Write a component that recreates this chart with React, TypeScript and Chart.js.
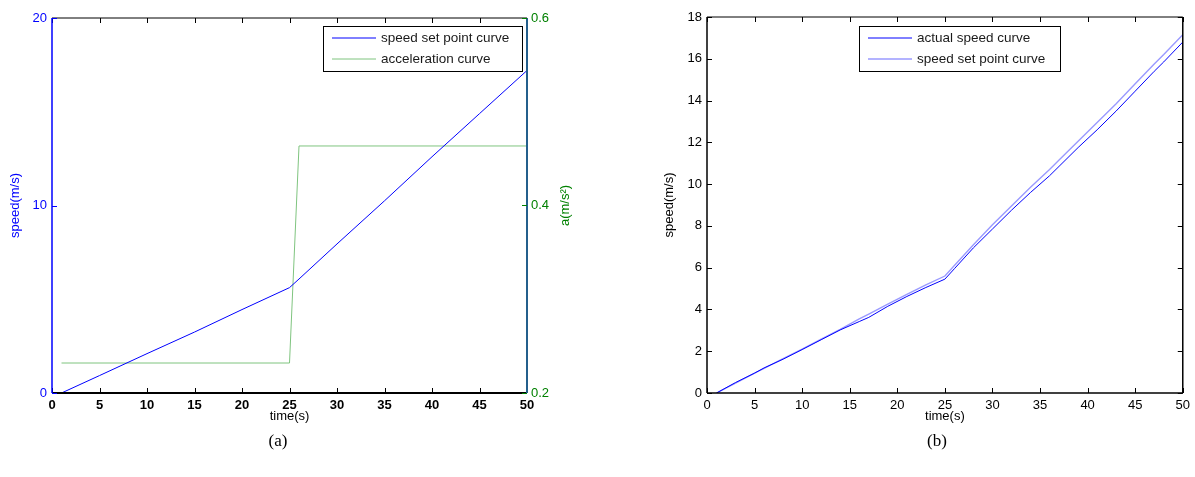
import React, { useEffect, useRef } from 'react';
import { Chart, registerables } from 'chart.js';

Chart.register(...registerables);

// ---------- data ----------
const timeTicks = [0, 5, 10, 15, 20, 25, 30, 35, 40, 45, 50];
const speedTicksA = [0, 10, 20];
const accelTicksA = [0.2, 0.4, 0.6];
const speedTicksB = [0, 2, 4, 6, 8, 10, 12, 14, 16, 18];

// (a) speed set point and acceleration
const setTimeA = [1, 5, 10, 15, 20, 25, 26, 30, 35, 40, 45, 50];
const setSpeedA = [0, 0.93, 2.1, 3.25, 4.45, 5.62, 6.08, 7.95, 10.25, 12.6, 14.9, 17.2];
const accelTimeA = [1, 25, 26, 50];
const accelA = [0.232, 0.232, 0.4635, 0.4635];

// (b) actual speed vs set point speed
const timeB = [1, 3, 5, 6, 8, 10, 12, 14, 16, 17, 19, 21, 23, 25, 26, 28, 30, 32, 34, 36, 37, 39, 41, 43, 45, 47, 48, 50];
const actualSpeedB = [0, 0.5, 0.95, 1.2, 1.62, 2.08, 2.55, 3.02, 3.42, 3.62, 4.15, 4.62, 5.05, 5.45, 5.95, 6.95, 7.85, 8.75, 9.6, 10.4, 10.85, 11.75, 12.6, 13.5, 14.45, 15.4, 15.85, 16.8];
const setSpeedB = [0, 0.47, 0.95, 1.18, 1.65, 2.1, 2.58, 3.05, 3.55, 3.78, 4.25, 4.72, 5.18, 5.6, 6.1, 7.1, 8.05, 8.95, 9.85, 10.7, 11.15, 12.05, 12.95, 13.85, 14.8, 15.75, 16.2, 17.15];

const FAMILY = '"Liberation Sans", Arial, Helvetica, sans-serif';

const pts = (xs: number[], ys: number[]) => xs.map((x, i) => ({ x, y: ys[i] }));
const fixedTicks = (vals: number[]) => (s: any) => {
  s.ticks = vals.map((v) => ({ value: v }));
};

// ---------- plugins ----------
const framePlugin = {
  id: 'frame',
  afterDraw(chart: any, _args: any, opts: any) {
    const { ctx, chartArea: a } = chart;
    for (const s of opts.sides || []) {
      const scale = chart.scales[s.scale];
      ctx.save();
      ctx.strokeStyle = s.color;
      ctx.lineWidth = s.width;
      ctx.beginPath();
      if (s.edge === 'bottom') { ctx.moveTo(a.left, a.bottom); ctx.lineTo(a.right, a.bottom); }
      if (s.edge === 'top') { ctx.moveTo(a.left, a.top); ctx.lineTo(a.right, a.top); }
      if (s.edge === 'left') { ctx.moveTo(a.left, a.top); ctx.lineTo(a.left, a.bottom); }
      if (s.edge === 'right') { ctx.moveTo(a.right, a.top); ctx.lineTo(a.right, a.bottom); }
      ctx.stroke();
      if (s.tick) {
        ctx.strokeStyle = s.tickColor || s.color;
        ctx.lineWidth = 1;
        ctx.beginPath();
        for (const t of scale.ticks) {
          const p = Math.round(scale.getPixelForValue(t.value)) + 0.5;
          if (s.edge === 'bottom') { ctx.moveTo(p, a.bottom); ctx.lineTo(p, a.bottom - s.tick); }
          if (s.edge === 'top') { ctx.moveTo(p, a.top); ctx.lineTo(p, a.top + s.tick); }
          if (s.edge === 'left') { ctx.moveTo(a.left, p); ctx.lineTo(a.left + s.tick, p); }
          if (s.edge === 'right') { ctx.moveTo(a.right, p); ctx.lineTo(a.right - s.tick, p); }
        }
        ctx.stroke();
      }
      ctx.restore();
    }
  },
};

const boxLegendPlugin = {
  id: 'boxLegend',
  afterDraw(chart: any, _args: any, opts: any) {
    if (!opts || !opts.width) return;
    const { ctx, chartArea: a } = chart;
    const x = a.left + opts.left;
    const y = a.top + opts.top;
    ctx.save();
    ctx.fillStyle = '#fff';
    ctx.fillRect(x, y, opts.width, opts.height);
    ctx.strokeStyle = '#000';
    ctx.lineWidth = 1;
    ctx.strokeRect(Math.round(x) + 0.5, Math.round(y) + 0.5, opts.width, opts.height);
    ctx.font = opts.font;
    ctx.textBaseline = 'middle';
    ctx.textAlign = 'left';
    chart.data.datasets.forEach((ds: any, i: number) => {
      const ry = y + opts.rowTop + i * opts.rowGap;
      ctx.strokeStyle = ds.borderColor;
      ctx.lineWidth = ds.borderWidth;
      ctx.beginPath();
      ctx.moveTo(x + opts.lineStart, ry);
      ctx.lineTo(x + opts.lineEnd, ry);
      ctx.stroke();
      ctx.fillStyle = '#1a1a1a';
      ctx.fillText(ds.label, x + opts.textStart, ry + 0.5);
    });
    ctx.restore();
  },
};

const sideTitlePlugin = {
  id: 'sideTitle',
  afterDraw(chart: any, _args: any, opts: any) {
    if (!opts || !opts.text) return;
    const { ctx, chartArea: a } = chart;
    ctx.save();
    ctx.translate(a.right + opts.offset, (a.top + a.bottom) / 2);
    ctx.rotate(-Math.PI / 2);
    ctx.font = opts.font;
    ctx.fillStyle = opts.color;
    ctx.textAlign = 'center';
    ctx.textBaseline = 'middle';
    ctx.fillText(opts.text, 0, 0);
    ctx.restore();
  },
};

const plugins = [framePlugin, boxLegendPlugin, sideTitlePlugin];

// ---------- configs ----------
const W_A = 600;
const W_B = 595;
const H = 440;

const legendLayout = {
  height: 45,
  rowTop: 12,
  rowGap: 21,
  lineStart: 9,
  lineEnd: 53,
  textStart: 58,
  font: `13.5px ${FAMILY}`,
};

const noGrid = { display: false, drawTicks: false };

const configA: any = {
  type: 'line',
  data: {
    datasets: [
      {
        label: 'speed set point curve',
        data: pts(setTimeA, setSpeedA),
        borderColor: '#0000ff',
        borderWidth: 1,
        pointRadius: 0,
        tension: 0,
        yAxisID: 'y',
      },
      {
        label: 'acceleration curve',
        data: pts(accelTimeA, accelA),
        borderColor: '#7fc47f',
        borderWidth: 1,
        pointRadius: 0,
        tension: 0,
        yAxisID: 'y1',
      },
    ],
  },
  options: {
    responsive: false,
    animation: false,
    devicePixelRatio: 1,
    layout: { padding: { top: 18, left: 0, right: 0, bottom: 0 } },
    plugins: {
      legend: { display: false },
      tooltip: { enabled: false },
      frame: {
        sides: [
          { edge: 'top', scale: 'x', color: '#000', width: 1, tick: 5 },
          { edge: 'bottom', scale: 'x', color: '#000', width: 2, tick: 5 },
          { edge: 'left', scale: 'y', color: '#0000ff', width: 1.5, tick: 5 },
          { edge: 'right', scale: 'y1', color: '#245f8c', width: 2, tick: 5, tickColor: '#008000' },
        ],
      },
      boxLegend: { ...legendLayout, left: 271, top: 8, width: 199 },
      sideTitle: { text: 'a(m/s²)', offset: 38, color: '#008000', font: `13px ${FAMILY}` },
    },
    scales: {
      x: {
        type: 'linear',
        position: 'bottom',
        min: 0,
        max: 50,
        afterBuildTicks: fixedTicks(timeTicks),
        afterFit: (s: any) => { s.height = H - 393; },
        grid: noGrid,
        border: { display: false },
        ticks: { color: '#000', padding: 5, autoSkip: false, maxRotation: 0, font: { size: 13, weight: 'bold', family: FAMILY } },
        title: { display: true, text: 'time(s)', color: '#000', font: { size: 13, family: FAMILY }, padding: { top: 0, bottom: 16 } },
      },
      y: {
        position: 'left',
        min: 0,
        max: 20,
        afterBuildTicks: fixedTicks(speedTicksA),
        afterFit: (s: any) => { s.width = 52; },
        grid: noGrid,
        border: { display: false },
        ticks: { color: '#0000ff', padding: 5, font: { size: 13, family: FAMILY } },
        title: { display: true, text: 'speed(m/s)', color: '#0000ff', font: { size: 13, family: FAMILY }, padding: { top: 8, bottom: 0 } },
      },
      y1: {
        position: 'right',
        min: 0.2,
        max: 0.6,
        afterBuildTicks: fixedTicks(accelTicksA),
        afterFit: (s: any) => { s.width = W_A - 527; },
        grid: noGrid,
        border: { display: false },
        ticks: { color: '#008000', padding: 4, font: { size: 13, family: FAMILY }, callback: (v: number) => String(v) },
      },
    },
  },
};

const configB: any = {
  type: 'line',
  data: {
    datasets: [
      {
        label: 'actual speed curve',
        data: pts(timeB, actualSpeedB),
        borderColor: '#0000ff',
        borderWidth: 1,
        pointRadius: 0,
        tension: 0,
      },
      {
        label: 'speed set point curve',
        data: pts(timeB, setSpeedB),
        borderColor: '#9a9aff',
        borderWidth: 1.4,
        pointRadius: 0,
        tension: 0,
      },
    ],
  },
  options: {
    responsive: false,
    animation: false,
    devicePixelRatio: 1,
    layout: { padding: { top: 17, left: 0, right: 10, bottom: 0 } },
    plugins: {
      legend: { display: false },
      tooltip: { enabled: false },
      frame: {
        sides: [
          { edge: 'top', scale: 'x', color: '#000', width: 1, tick: 5 },
          { edge: 'bottom', scale: 'x', color: '#000', width: 1.5, tick: 5 },
          { edge: 'left', scale: 'y', color: '#000', width: 1.5, tick: 5 },
          { edge: 'right', scale: 'y', color: '#000', width: 1.5, tick: 5 },
        ],
      },
      boxLegend: { ...legendLayout, left: 152, top: 9, width: 201 },
    },
    scales: {
      x: {
        type: 'linear',
        position: 'bottom',
        min: 0,
        max: 50,
        afterBuildTicks: fixedTicks(timeTicks),
        afterFit: (s: any) => { s.height = H - 393; },
        grid: noGrid,
        border: { display: false },
        ticks: { color: '#000', padding: 5, autoSkip: false, maxRotation: 0, font: { size: 13, family: FAMILY } },
        title: { display: true, text: 'time(s)', color: '#000', font: { size: 13, family: FAMILY }, padding: { top: 0, bottom: 16 } },
      },
      y: {
        position: 'left',
        min: 0,
        max: 18,
        afterBuildTicks: fixedTicks(speedTicksB),
        afterFit: (s: any) => { s.width = 107; },
        grid: noGrid,
        border: { display: false },
        ticks: { color: '#000', padding: 5, font: { size: 13, family: FAMILY } },
        title: { display: true, text: 'speed(m/s)', color: '#000', font: { size: 13, family: FAMILY }, padding: { top: 62, bottom: 0 } },
      },
    },
  },
};

function ChartCanvas({ config, width, left }: { config: any; width: number; left: number }) {
  const ref = useRef<HTMLCanvasElement>(null);
  useEffect(() => {
    const chart = new Chart(ref.current as HTMLCanvasElement, { ...config, plugins });
    return () => chart.destroy();
  }, []);
  return (
    <canvas
      ref={ref}
      width={width}
      height={H}
      style={{ position: 'absolute', left, top: 0, width, height: H }}
    />
  );
}

const captionStyle = (cx: number): React.CSSProperties => ({
  position: 'absolute',
  left: cx - 30,
  width: 60,
  top: 432,
  textAlign: 'center',
  fontFamily: '"Liberation Serif", "Times New Roman", serif',
  fontSize: 17,
  lineHeight: '18px',
  color: '#000',
});

export default function App() {
  return (
    <div style={{ position: 'fixed', left: 0, top: 0, width: 1195, height: 477, background: '#fff', overflow: 'hidden' }}>
      <ChartCanvas config={configA} width={W_A} left={0} />
      <ChartCanvas config={configB} width={W_B} left={600} />
      <div style={captionStyle(278)}>(a)</div>
      <div style={captionStyle(937)}>(b)</div>
    </div>
  );
}
